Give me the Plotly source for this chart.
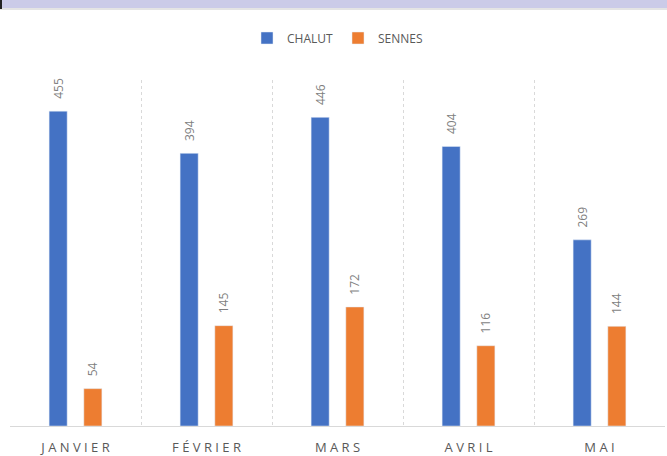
import plotly.graph_objects as go

months = ["JANVIER", "FÉVRIER", "MARS", "AVRIL", "MAI"]
chalut = [455, 394, 446, 404, 269]
sennes = [54, 145, 172, 116, 144]

tick_labels = [" ".join(m) for m in months]

BLUE = "#4472C4"
ORANGE = "#ED7D31"
GREY = "#595959"

fig = go.Figure()
for name, vals, col in [("CHALUT", chalut, BLUE), ("SENNES", sennes, ORANGE)]:
    fig.add_trace(go.Bar(
        x=months, y=vals, name=name, marker_color=col,
        text=vals, texttemplate="\u00a0\u00a0\u00a0%{text}",
        textposition="outside", textangle=-90, constraintext="none",
        textfont=dict(family="Open Sans", size=12, color="#7f7f7f"),
        cliponaxis=False,
    ))

W, H = 667, 456
L, R, T, B = 10, 2, 80, 30
ph = H - T - B

def py(p):
    return (H - B - p) / ph

def px(p):
    return (p - L) / (W - L - R)

fig.update_layout(
    width=W, height=H,
    margin=dict(l=L, r=R, t=T, b=B, autoexpand=False),
    paper_bgcolor="white", plot_bgcolor="white",
    barmode="group", bargap=0.47, bargroupgap=0.48,
    font=dict(family="Open Sans", color=GREY),
    legend=dict(orientation="h", x=0.5, xanchor="center", y=py(38), yanchor="middle",
                font=dict(size=12, color=GREY), itemwidth=30, traceorder="normal"),
    xaxis=dict(tickmode="array", tickvals=months, ticktext=tick_labels,
               tickson="boundaries", ticks="", showgrid=True, gridcolor="#d9d9d9",
               griddash="dot", gridwidth=1, showline=True, linecolor="#d9d9d9",
               tickfont=dict(size=13, color=GREY), ticklabelstandoff=9,
               automargin=False),
    yaxis=dict(range=[0, 500], visible=False, showgrid=False, automargin=False),
    shapes=[
        dict(type="rect", xref="paper", yref="paper", x0=px(0), x1=px(W), y0=py(8), y1=py(0),
             fillcolor="#cbcbe8", line=dict(width=0), layer="above"),
        dict(type="rect", xref="paper", yref="paper", x0=px(0), x1=px(W), y0=py(10), y1=py(8),
             fillcolor="#e4e4e4", line=dict(width=0), layer="above"),
        dict(type="rect", xref="paper", yref="paper", x0=px(0), x1=px(2), y0=py(9), y1=py(0),
             fillcolor="#222222", line=dict(width=0), layer="above"),
    ],
)

fig.write_html("out.html", config={"displayModeBar": False},
               post_script="document.body.style.margin='0';")
